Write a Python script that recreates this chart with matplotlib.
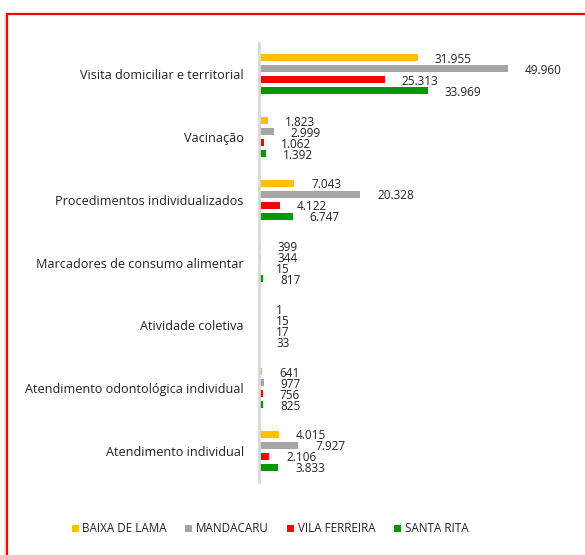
import numpy as np
import matplotlib
matplotlib.use("Agg")
import matplotlib.pyplot as plt
from matplotlib.patches import Rectangle

plt.rcParams['font.family'] = ['Open Sans', 'DejaVu Sans']

# categorias (de cima para baixo) e valores por unidade
categorias = ["Visita domiciliar e territorial", "Vacinação",
              "Procedimentos individualizados", "Marcadores de consumo alimentar",
              "Atividade coletiva", "Atendimento odontológica individual",
              "Atendimento individual"]
baixa_de_lama = [31955, 1823, 7043, 399, 1, 641, 4015]
mandacaru = [49960, 2999, 20328, 344, 15, 977, 7927]
vila_ferreira = [25313, 1062, 4122, 15, 17, 756, 2106]
santa_rita = [33969, 1392, 6747, 817, 33, 825, 3833]

series = [("BAIXA DE LAMA", baixa_de_lama, "#FFC000"),
          ("MANDACARU", mandacaru, "#A5A5A5"),
          ("VILA FERREIRA", vila_ferreira, "#FF0000"),
          ("SANTA RITA", santa_rita, "#009900")]


def fmt(v):
    # separador de milhar com ponto
    return f"{v:,}".replace(",", ".")


fig = plt.figure(figsize=(5.85, 5.55), dpi=100)
ax = fig.add_axes([259 / 585, 1 - 482 / 555, 301 / 585, 439 / 555])

y = np.arange(len(categorias))
passo = 0.175
altura = 0.112
for i, (nome, vals, cor) in enumerate(series):
    pos = y + (i - 1.5) * passo
    ax.barh(pos, vals, height=altura, color=cor, label=nome)
    for p, v in zip(pos, vals):
        ax.annotate(fmt(v), (v, p), xytext=(12.2, -1.2), textcoords="offset points",
                    ha="left", va="center", fontsize=8.5, color="#222222")

ax.set_ylim(len(categorias) - 0.5, -0.5)
ax.set_xlim(0, 60500)
ax.set_yticks(y)
ax.set_yticklabels(categorias, fontsize=9.1, color="#222222")
ax.tick_params(axis="y", length=0, pad=11)
ax.set_xticks([])
for s in ["top", "right", "bottom"]:
    ax.spines[s].set_visible(False)
ax.spines["left"].set_color("#D9D9D9")
ax.spines["left"].set_linewidth(2)

leg = fig.legend(loc="center", bbox_to_anchor=(270 / 585, 1 - 529 / 555), ncol=4,
                 frameon=False, fontsize=8.4, handlelength=0.6, handleheight=0.6,
                 handletextpad=0.3, columnspacing=1.6)
for t in leg.get_texts():
    t.set_color("#222222")

# sombra e moldura vermelha
fig.patches.append(Rectangle((4 / 585, -0.1), 3 / 585, 1 - 14 / 555 + 0.1,
                             transform=fig.transFigure, facecolor="#E6E6E6",
                             edgecolor="none"))
fig.patches.append(Rectangle((7 / 585, -0.1), 1.2, 1 - 14 / 555 + 0.1,
                             transform=fig.transFigure, fill=False,
                             edgecolor="#FF0000", linewidth=1.6))

fig.savefig("out.png", dpi=100)
